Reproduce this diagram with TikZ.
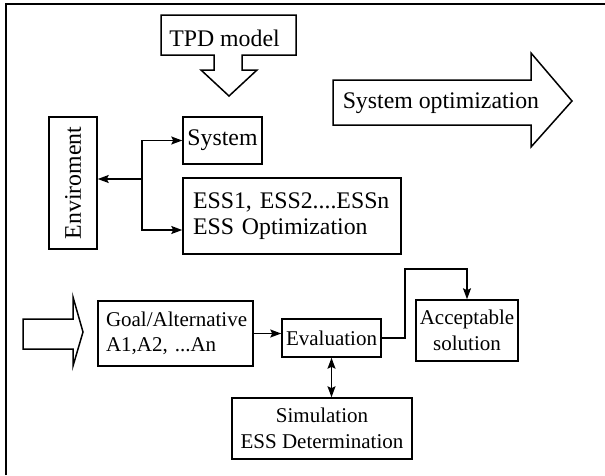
\documentclass[tikz,border=0pt]{standalone}
\usepackage{fontspec}
\setmainfont{Liberation Serif}
\usepackage{graphicx}
\usetikzlibrary{arrows.meta}
\begin{document}
\begin{tikzpicture}[x=1pt,y=-1pt,
  line width=1.5pt,
  box/.style={draw, rectangle, inner sep=0pt, line width=1.5pt},
  big/.style={font=\fontsize{23.8}{26}\selectfont},
  small/.style={font=\fontsize{21}{25.5}\selectfont},
  arr/.style={-{Stealth[length=11pt,width=8pt,inset=2pt]}},
  darr/.style={{Stealth[length=11pt,width=8pt,inset=2pt]}-{Stealth[length=11pt,width=8pt,inset=2pt]}},
  hollow/.style={draw, line width=1.5pt, line join=miter, fill=white}]
\useasboundingbox (0,0) rectangle (605,475);
% frame
\draw[line width=1.6pt] (6,475) -- (6,4) -- (605,4);
% hollow arrows
\draw[hollow] (161,15) -- (296,15) -- (296,55) -- (242,55) -- (242,70) -- (257,70) -- (229,96) -- (201,70) -- (214,70) -- (214,55) -- (161,55) -- cycle;
\node[big, anchor=base, inner sep=0pt] (tpd) at (224.5,46) {TPD model};
\draw[hollow] (333,80) -- (531,80) -- (531,53) -- (572,101) -- (531,147) -- (531,125) -- (333,125) -- cycle;
\node[big, anchor=base west, inner sep=0pt] (sysopt) at (342,108) {System optimization};
\draw[hollow] (23,319) -- (73,319) -- (73,297) -- (83,332) -- (73,366) -- (73,349) -- (23,349) -- cycle;
% boxes
\node[box, big, minimum width=48pt, minimum height=132pt] (env) at (73,183) {\rotatebox{90}{Enviroment}};
\node[box, big, minimum width=79pt, minimum height=47pt] (sys) at (222.5,140.5) {System};
\node[box, big, minimum height=76pt, text width=198pt, inner xsep=10pt, align=left] (ess) at (292,216) {ESS1, ESS2....ESSn\\ESS Optimization};
\node[box, small, minimum height=65pt, text width=139pt, inner xsep=8pt, align=left] (goal) at (175.5,333.5) {Goal/Alternative\\A1,A2, ...An};
\node[box, small, minimum width=99pt, minimum height=38pt] (eval) at (331.5,338) {Evaluation};
\node[box, small, minimum width=102pt, minimum height=61pt, align=center] (acc) at (467,330.5) {Acceptable\\solution};
\node[box, small, minimum width=180pt, minimum height=61pt, align=center] (sim) at (322,428.5) {Simulation\\ESS Determination};
% connectors
\coordinate (j) at (142,179);
\draw[arr] (j) -- (j -| env.east);
\draw[arr] (j) |- (sys.west);
\draw[arr] (j) |- ([yshift=-14pt]ess.west);
\draw[arr] (goal.east) -- (goal.east -| eval.west);
\coordinate (k) at (405,269);
\draw[arr] (eval.east) -| (k) -| (acc.north);
\draw[darr] (eval.south) -- (eval.south |- sim.north);
\end{tikzpicture}
\end{document}
